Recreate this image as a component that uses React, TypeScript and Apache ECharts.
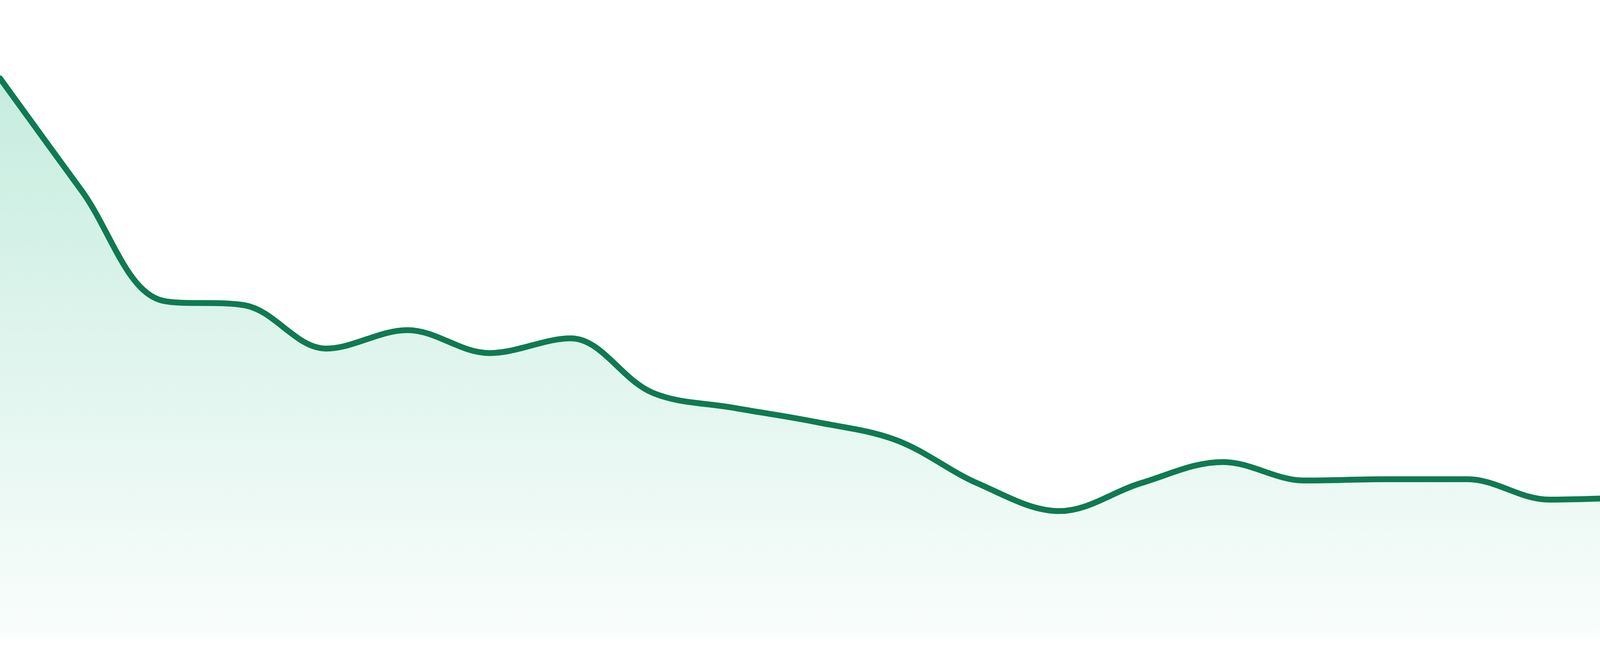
import React, { useEffect, useRef } from 'react';
import * as echarts from 'echarts';

// 24 hourly readings, no visible axes in the original
const hours = [
  '00:00', '01:00', '02:00', '03:00', '04:00', '05:00', '06:00', '07:00',
  '08:00', '09:00', '10:00', '11:00', '12:00', '13:00', '14:00', '15:00',
  '16:00', '17:00', '18:00', '19:00', '20:00', '21:00', '22:00', '23:00',
];

const values = [
  87.7, 70.1, 52.8, 52.1, 45.3, 48.2, 44.6, 46.9,
  38.4, 36.0, 33.8, 30.9, 24.1, 19.8, 24.2, 27.5,
  24.6, 24.8, 24.8, 21.6, 21.9, 22.2, 20.9, 20.9,
];

const yMin = 0;
const yMax = 100;

const lineColor = '#0f7a52';

const TrendAreaChart: React.FC = () => {
  const chartRef = useRef<HTMLDivElement>(null);

  useEffect(() => {
    if (!chartRef.current) return;

    document.body.style.margin = '0';
    document.body.style.overflow = 'hidden';

    const chart = echarts.init(chartRef.current, undefined, { renderer: 'svg' });

    const option: echarts.EChartsOption = {
      animation: false,
      grid: {
        left: 0,
        right: 0,
        top: 0,
        bottom: 48,
      },
      xAxis: {
        type: 'category',
        boundaryGap: false,
        data: hours,
        show: false,
      },
      yAxis: {
        type: 'value',
        min: yMin,
        max: yMax,
        show: false,
      },
      series: [
        {
          name: 'Trend',
          type: 'line',
          data: values,
          smooth: 0.35,
          symbol: 'none',
          lineStyle: {
            color: lineColor,
            width: 15,
            cap: 'round',
            join: 'round',
          },
          areaStyle: {
            color: new echarts.graphic.LinearGradient(0, 0, 0, 1, [
              { offset: 0, color: 'rgba(18, 178, 120, 0.34)' },
              { offset: 1, color: 'rgba(18, 178, 120, 0.035)' },
            ]),
          },
        },
      ],
    };

    chart.setOption(option);

    const handleResize = () => {
      chart.resize();
    };
    window.addEventListener('resize', handleResize);

    return () => {
      window.removeEventListener('resize', handleResize);
      chart.dispose();
    };
  }, []);

  return <div ref={chartRef} style={{ width: '4800px', height: '1680px' }} />;
};

export default function App() {
  return <TrendAreaChart />;
}
